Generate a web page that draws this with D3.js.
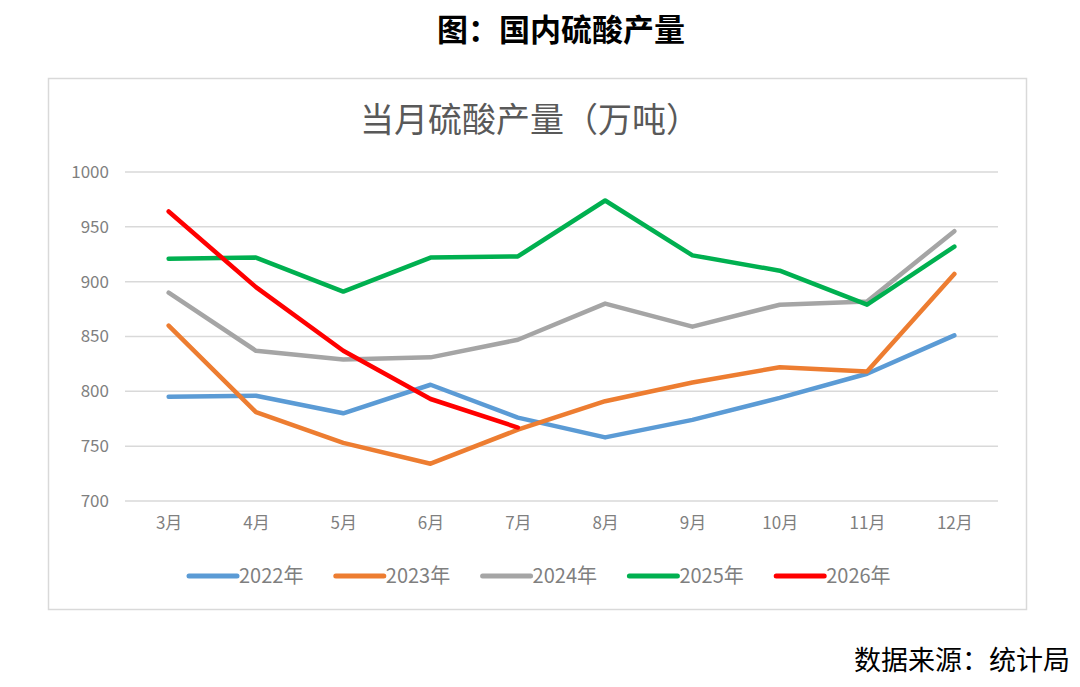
<!DOCTYPE html>
<html>
<head>
<meta charset="utf-8">
<script src="https://cdn.jsdelivr.net/npm/d3@7"></script>
<style>
  body { margin: 0; background: #fff; }
</style>
</head>
<body>
<div id="chart"></div>
<script>
// 数据 (万吨)
var months = ["3月", "4月", "5月", "6月", "7月", "8月", "9月", "10月", "11月", "12月"];
var years = ["2022年", "2023年", "2024年", "2025年", "2026年"];
var colors = ["#5b9bd5", "#ed7d31", "#a5a5a5", "#00b050", "#ff0000"];
var v2022 = [795, 796, 780, 806, 776, 758, 774, 794, 816, 851];
var v2023 = [860, 781, 753, 734, 765, 791, 808, 822, 818, 907];
var v2024 = [890, 837, 829, 831, 847, 880, 859, 879, 882, 946];
var v2025 = [921, 922, 891, 922, 923, 974, 924, 910, 879, 932];
var v2026 = [964, 895, 837, 793, 767];
var yTicks = [700, 750, 800, 850, 900, 950, 1000];

var series = [v2022, v2023, v2024, v2025, v2026];

var width = 1080, height = 687;
var cjk = "'Noto Sans CJK SC', 'Liberation Sans', sans-serif";

var svg = d3.select("#chart")
  .append("svg")
  .attr("width", width)
  .attr("height", height);

// 外部标题
svg.append("text")
  .attr("x", 561)
  .attr("y", 41)
  .attr("text-anchor", "middle")
  .attr("font-family", cjk)
  .attr("font-weight", "bold")
  .attr("fill", "#000")
  .style("font-size", "31px")
  .text("图：国内硫酸产量");

// 图表边框
svg.append("rect")
  .attr("x", 48.5)
  .attr("y", 78.5)
  .attr("width", 978)
  .attr("height", 531)
  .attr("fill", "#fff")
  .attr("stroke", "#d9d9d9")
  .attr("stroke-width", 1.5);

svg.append("text")
  .attr("x", 530)
  .attr("y", 132)
  .attr("text-anchor", "middle")
  .attr("font-family", cjk)
  .attr("fill", "#595959")
  .style("font-size", "34px")
  .text("当月硫酸产量（万吨）");

var x = d3.scalePoint()
  .domain(months)
  .range([125, 998])
  .padding(0.5);

var y = d3.scaleLinear()
  .domain([700, 1000])
  .range([501, 172]);

// 网格线
svg.append("g")
  .selectAll("line")
  .data(yTicks)
  .enter()
  .append("line")
  .attr("x1", 125)
  .attr("x2", 998)
  .attr("y1", function(d) { return y(d); })
  .attr("y2", function(d) { return y(d); })
  .attr("stroke", "#d9d9d9")
  .attr("stroke-width", 1.5);

// y 轴
var yAxis = svg.append("g")
  .attr("transform", "translate(109,0)")
  .call(d3.axisLeft(y).tickValues(yTicks).tickFormat(d3.format("d")).tickSize(0).tickPadding(0));
yAxis.select(".domain").remove();
yAxis.selectAll("text")
  .attr("fill", "#7f7f7f")
  .attr("font-family", cjk)
  .style("font-size", "17px");

// x 轴
var xAxis = svg.append("g")
  .attr("transform", "translate(0,514)")
  .call(d3.axisBottom(x).tickSize(0).tickPadding(0));
xAxis.select(".domain").remove();
xAxis.selectAll("text")
  .attr("fill", "#7f7f7f")
  .attr("font-family", cjk)
  .attr("dy", "0.9em")
  .style("font-size", "17px");

// 折线
var line = d3.line()
  .x(function(d, i) { return x(months[i]); })
  .y(function(d) { return y(d); });

series.forEach(function(s, i) {
  svg.append("path")
    .datum(s)
    .attr("fill", "none")
    .attr("stroke", colors[i])
    .attr("stroke-width", 4.5)
    .attr("stroke-linejoin", "round")
    .attr("stroke-linecap", "round")
    .attr("d", line);
});

// 图例
var legend = svg.append("g")
  .selectAll("g")
  .data(years)
  .enter()
  .append("g")
  .attr("transform", function(d, i) { return "translate(" + (189 + i * 146.8) + ",576)"; });

legend.append("line")
  .attr("x1", 0)
  .attr("x2", 48)
  .attr("stroke", function(d, i) { return colors[i]; })
  .attr("stroke-width", 5)
  .attr("stroke-linecap", "round");

legend.append("text")
  .attr("x", 50)
  .attr("y", 7)
  .attr("fill", "#7f7f7f")
  .attr("font-family", cjk)
  .style("font-size", "20px")
  .text(function(d) { return d; });

// 数据来源
svg.append("text")
  .attr("x", 1070)
  .attr("y", 670)
  .attr("text-anchor", "end")
  .attr("font-family", cjk)
  .attr("fill", "#000")
  .style("font-size", "27px")
  .text("数据来源：统计局");
</script>
</body>
</html>
